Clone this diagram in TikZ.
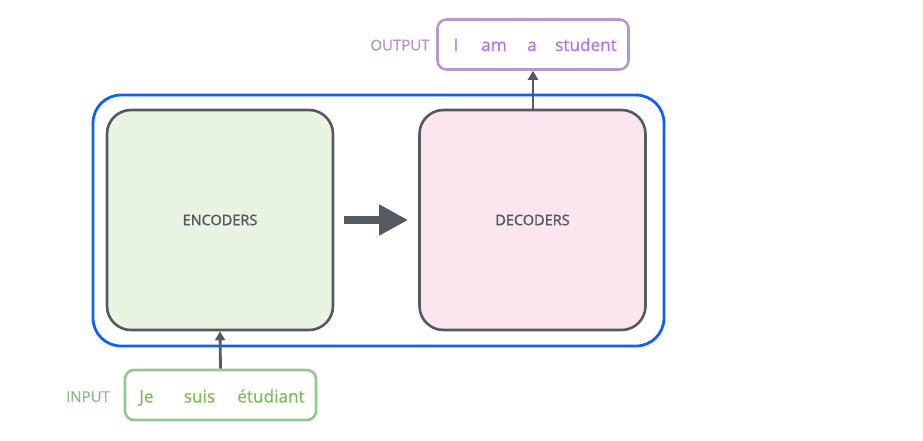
\documentclass[tikz,border=0pt]{standalone}
\usepackage{fontspec}
\setmainfont{Open Sans}
\newfontfamily\semifont{Open Sans}[FakeBold=1.6]
\newfontfamily\midfont{Open Sans}[FakeBold=0.8]
\usetikzlibrary{arrows.meta}
\definecolor{boxgray}{HTML}{555960}
\definecolor{outerblue}{HTML}{1260EE}
\definecolor{encfill}{HTML}{E8F3E1}
\definecolor{decfill}{HTML}{FBE6EF}
\definecolor{instroke}{HTML}{94C592}
\definecolor{intext}{HTML}{78BE50}
\definecolor{inlabel}{HTML}{8DB98D}
\definecolor{outstroke}{HTML}{B896CB}
\definecolor{outtext}{HTML}{B871E0}
\definecolor{outlabel}{HTML}{B890D0}
\tikzset{
  coder/.style={draw=boxgray, line width=2.6pt, rounded corners=24pt, minimum width=226pt, minimum height=220pt, inner sep=0pt, text=boxgray, font=\semifont\fontsize{14.5}{17}\selectfont},
  wordbox/.style={line width=2.6pt, rounded corners=9pt, minimum width=191pt, minimum height=50pt, inner sep=0pt},
  word/.style={inner sep=0pt, anchor=base, font=\midfont\fontsize{17.2}{20}\selectfont},
  tag/.style={inner sep=0pt, anchor=base, font=\midfont\fontsize{15}{18}\selectfont},
  feed/.style={draw=boxgray, line width=2.8pt, -{Triangle[length=9pt,width=10pt]}}
}
\begin{document}
\begin{tikzpicture}[x=1pt,y=-1pt]
\useasboundingbox (0,0) rectangle (923,440);
\node[draw=outerblue, line width=2.8pt, rounded corners=28pt, minimum width=571pt, minimum height=251pt, inner sep=0pt] (outer) at (378.5,220.5) {};
\node[coder, fill=encfill] (enc) at (220,220) {ENCODERS};
\node[coder, fill=decfill] (dec) at (532.5,220) {DECODERS};
\draw[draw=boxgray, line width=8pt, -{Triangle[length=29pt,width=29pt]}] ([xshift=10pt]enc.east) -- ([xshift=-10pt]dec.west);
% input
\node[wordbox, draw=instroke] (inbox) at (220.5,395) {};
\node[word, text=intext] (w1) at (146.5,402.5) {Je};
\node[word, text=intext] (w2) at (199.5,402.5) {suis};
\node[word, text=intext] (w3) at (271,402.5) {étudiant};
\node[tag, text=inlabel] (inlab) at (88,402) {INPUT};
\draw[feed] (inbox.north) -- (enc.south);
% output
\node[wordbox, draw=outstroke] (outbox) at (533,44.5) {};
\node[word, text=outtext] (o1) at (456,51) {I};
\node[word, text=outtext] (o2) at (494,51) {am};
\node[word, text=outtext] (o3) at (532,51) {a};
\node[word, text=outtext] (o4) at (586,51) {student};
\node[tag, text=outlabel] (outlab) at (400,50.5) {OUTPUT};
\draw[feed] (dec.north -| outbox.south) -- (outbox.south);
\end{tikzpicture}
\end{document}
